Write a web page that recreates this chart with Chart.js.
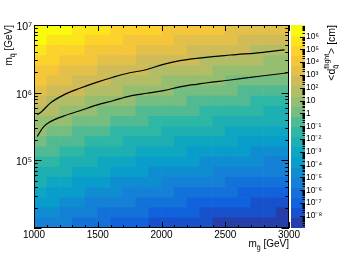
<!DOCTYPE html>
<html><head><meta charset="utf-8">
<script src="https://cdn.jsdelivr.net/npm/chart.js@4/dist/chart.umd.min.js"></script>
<style>html,body{margin:0;padding:0;background:#fff;overflow:hidden}</style>
</head><body>
<canvas id="c" width="339" height="254"></canvas>
<script>
// ---------------- data ----------------
const mgBinCenters = [1050,1150,1250,1350,1450,1550,1650,1750,1850,1950,2050,2150,2250,2350,2450,2550,2650,2750,2850,2950];
const msqBinEdges = [1.0e4,1.4125e4,1.9953e4,2.8184e4,3.9811e4,5.6234e4,7.9433e4,1.1220e5,1.5849e5,2.2387e5,3.1623e5,4.4668e5,6.3096e5,8.9125e5,1.2589e6,1.7783e6,2.5119e6,3.5481e6,5.0119e6,7.0795e6,1.0e7];
// log10 of <d_flight> [cm], one array per squark-mass bin (bottom row first)
const log10Decay_row00 = [-5.12,-5.45,-5.76,-6.04,-6.30,-6.55,-6.78,-6.99,-7.20,-7.39,-7.57,-7.75,-7.91,-8.07,-8.22,-8.37,-8.51,-8.65,-8.78,-8.91];
const log10Decay_row01 = [-4.49,-4.82,-5.13,-5.41,-5.67,-5.92,-6.15,-6.36,-6.57,-6.76,-6.94,-7.12,-7.28,-7.44,-7.59,-7.74,-7.88,-8.02,-8.15,-8.28];
const log10Decay_row02 = [-3.85,-4.18,-4.49,-4.77,-5.03,-5.28,-5.51,-5.72,-5.93,-6.12,-6.30,-6.48,-6.64,-6.80,-6.95,-7.10,-7.24,-7.38,-7.51,-7.64];
const log10Decay_row03 = [-3.22,-3.55,-3.86,-4.14,-4.40,-4.65,-4.88,-5.09,-5.30,-5.49,-5.67,-5.85,-6.01,-6.17,-6.32,-6.47,-6.61,-6.75,-6.88,-7.01];
const log10Decay_row04 = [-2.59,-2.92,-3.23,-3.51,-3.77,-4.02,-4.25,-4.46,-4.67,-4.86,-5.04,-5.22,-5.38,-5.54,-5.69,-5.84,-5.98,-6.12,-6.25,-6.38];
const log10Decay_row05 = [-1.96,-2.29,-2.60,-2.88,-3.14,-3.39,-3.62,-3.83,-4.04,-4.23,-4.41,-4.59,-4.75,-4.91,-5.06,-5.21,-5.35,-5.49,-5.62,-5.75];
const log10Decay_row06 = [-1.33,-1.66,-1.97,-2.25,-2.51,-2.76,-2.99,-3.20,-3.41,-3.60,-3.78,-3.96,-4.12,-4.28,-4.43,-4.58,-4.72,-4.86,-4.99,-5.12];
const log10Decay_row07 = [-0.69,-1.02,-1.33,-1.61,-1.87,-2.12,-2.35,-2.56,-2.77,-2.96,-3.14,-3.32,-3.48,-3.64,-3.79,-3.94,-4.08,-4.22,-4.35,-4.48];
const log10Decay_row08 = [-0.06,-0.39,-0.70,-0.98,-1.24,-1.49,-1.72,-1.93,-2.14,-2.33,-2.51,-2.69,-2.85,-3.01,-3.16,-3.31,-3.45,-3.59,-3.72,-3.85];
const log10Decay_row09 = [0.57,0.24,-0.07,-0.35,-0.61,-0.86,-1.09,-1.30,-1.51,-1.70,-1.88,-2.06,-2.22,-2.38,-2.53,-2.68,-2.82,-2.96,-3.09,-3.22];
const log10Decay_row10 = [1.20,0.87,0.56,0.28,0.02,-0.23,-0.46,-0.67,-0.88,-1.07,-1.25,-1.43,-1.59,-1.75,-1.90,-2.05,-2.19,-2.33,-2.46,-2.59];
const log10Decay_row11 = [1.83,1.50,1.19,0.91,0.65,0.40,0.17,-0.04,-0.25,-0.44,-0.62,-0.80,-0.96,-1.12,-1.27,-1.42,-1.56,-1.70,-1.83,-1.96];
const log10Decay_row12 = [2.47,2.14,1.83,1.55,1.29,1.04,0.81,0.60,0.39,0.20,0.02,-0.16,-0.32,-0.48,-0.63,-0.78,-0.92,-1.06,-1.19,-1.32];
const log10Decay_row13 = [3.10,2.77,2.46,2.18,1.92,1.67,1.44,1.23,1.02,0.83,0.65,0.47,0.31,0.15,0.00,-0.15,-0.29,-0.43,-0.56,-0.69];
const log10Decay_row14 = [3.73,3.40,3.09,2.81,2.55,2.30,2.07,1.86,1.65,1.46,1.28,1.10,0.94,0.78,0.63,0.48,0.34,0.20,0.07,-0.06];
const log10Decay_row15 = [4.36,4.03,3.72,3.44,3.18,2.93,2.70,2.49,2.28,2.09,1.91,1.73,1.57,1.41,1.26,1.11,0.97,0.83,0.70,0.57];
const log10Decay_row16 = [4.99,4.66,4.35,4.07,3.81,3.56,3.33,3.12,2.91,2.72,2.54,2.36,2.20,2.04,1.89,1.74,1.60,1.46,1.33,1.20];
const log10Decay_row17 = [5.63,5.30,4.99,4.71,4.45,4.20,3.97,3.76,3.55,3.36,3.18,3.00,2.84,2.68,2.53,2.38,2.24,2.10,1.97,1.84];
const log10Decay_row18 = [6.26,5.93,5.62,5.34,5.08,4.83,4.60,4.39,4.18,3.99,3.81,3.63,3.47,3.31,3.16,3.01,2.87,2.73,2.60,2.47];
const log10Decay_row19 = [6.89,6.56,6.25,5.97,5.71,5.46,5.23,5.02,4.81,4.62,4.44,4.26,4.10,3.94,3.79,3.64,3.50,3.36,3.23,3.10];
const log10DecayRows = [log10Decay_row00,log10Decay_row01,log10Decay_row02,log10Decay_row03,log10Decay_row04,log10Decay_row05,log10Decay_row06,log10Decay_row07,log10Decay_row08,log10Decay_row09,log10Decay_row10,log10Decay_row11,log10Decay_row12,log10Decay_row13,log10Decay_row14,log10Decay_row15,log10Decay_row16,log10Decay_row17,log10Decay_row18,log10Decay_row19];

const xTickLabels = [1000,1500,2000,2500,3000];
const yTickLabels = [1e5,1e6,1e7];
const zTickExponents = [-8,-7,-6,-5,-4,-3,-2,-1,0,1,2,3,4,5,6];

const contourUpperMg  = [1025,1042,1060,1125,1230,1360,1490,1620,1750,1870,2015,2145,2275,2540,2800,2965];
const contourUpperMsq = [4.75e5,4.95e5,5.25e5,6.95e5,9.2e5,1.16e6,1.42e6,1.69e6,1.97e6,2.16e6,2.62e6,2.97e6,3.22e6,3.6e6,3.95e6,4.3e6];
const contourLowerMg  = [1025,1073,1125,1230,1360,1490,1620,1750,1885,2015,2145,2275,2540,2800,2995];
const contourLowerMsq = [2.25e5,3.1e5,3.7e5,4.5e5,5.4e5,6.55e5,7.6e5,8.9e5,9.8e5,1.07e6,1.22e6,1.33e6,1.54e6,1.78e6,1.97e6];

// ---------------- style ----------------
const Z_MIN_LOG = -8.95, Z_MAX_LOG = 6.9, N_LEVELS = 20;
const FONT = '"Liberation Sans", Arial, Helvetica, sans-serif';
function font(sz){ return sz + 'px ' + FONT; }

const birdStops = [0,0.125,0.25,0.375,0.5,0.625,0.75,0.875,1];
const birdR = [0.2082,0.0592,0.0780,0.0232,0.1802,0.5301,0.8186,0.9956,0.9764];
const birdG = [0.1664,0.3599,0.5041,0.6419,0.7178,0.7492,0.7328,0.7862,0.9832];
const birdB = [0.5293,0.8684,0.8385,0.7914,0.6425,0.4662,0.3499,0.1968,0.0539];
function bird(f){
  f = Math.max(0, Math.min(1, f));
  let i = 0; while (i < birdStops.length-2 && f > birdStops[i+1]) i++;
  const t = (f - birdStops[i])/(birdStops[i+1]-birdStops[i]);
  const c = a => Math.round(255*(a[i] + t*(a[i+1]-a[i])));
  return 'rgb(' + c(birdR) + ',' + c(birdG) + ',' + c(birdB) + ')';
}
function levelOf(L){
  const w = (Z_MAX_LOG - Z_MIN_LOG)/N_LEVELS;
  return Math.max(0, Math.min(N_LEVELS-1, Math.floor((L - Z_MIN_LOG)/w)));
}
function levelColor(k){ return bird((k + 0.99)/N_LEVELS); }

const SUP = {'0':'\u2070','1':'\u00b9','2':'\u00b2','3':'\u00b3','4':'\u2074','5':'\u2075','6':'\u2076','7':'\u2077','8':'\u2078','9':'\u2079','-':'\u207b'};
function powLabel(e){ if (e === 0) return '1'; if (e === 1) return '10'; return '10' + String(e).split('').map(c => SUP[c]).join(''); }
function decadeExp(v){ const l = Math.log10(v); const r = Math.round(l); return Math.abs(l - r) < 1e-6 ? r : null; }

// ---------------- datasets ----------------
const datasets = [];
datasets.push({ type:'line', data: contourUpperMg.map((x,i)=>({x, y: contourUpperMsq[i]})), borderColor:'#000', borderWidth:1.2, pointRadius:0, cubicInterpolationMode:'monotone', fill:false, order:0 });
datasets.push({ type:'line', data: contourLowerMg.map((x,i)=>({x, y: contourLowerMsq[i]})), borderColor:'#000', borderWidth:1.2, pointRadius:0, cubicInterpolationMode:'monotone', fill:false, order:0 });
log10DecayRows.forEach((row, j) => {
  datasets.push({
    type:'bar',
    data: mgBinCenters.map((x,i) => ({ x, y: [msqBinEdges[j], msqBinEdges[j+1]] })),
    backgroundColor: row.map(L => levelColor(levelOf(L))),
    borderWidth: 0, grouped: false, barPercentage: 1, categoryPercentage: 1, order: 1
  });
});

// ---------------- decorations plugin ----------------
function drawRich(ctx, x, y, parts, rotate){
  ctx.save();
  ctx.translate(x, y);
  if (rotate) ctx.rotate(-Math.PI/2);
  const widths = parts.map(p => {
    const items = p.stack || [p];
    return Math.max(...items.map(s => { ctx.font = font(s.size); return ctx.measureText(s.text).width; }));
  });
  let cx = -widths.reduce((a,b)=>a+b, 0);
  ctx.textAlign = 'left'; ctx.textBaseline = 'alphabetic'; ctx.fillStyle = '#000';
  parts.forEach((p,i) => {
    (p.stack || [p]).forEach(s => { ctx.font = font(s.size); ctx.fillText(s.text, cx, s.dy || 0); });
    cx += widths[i];
  });
  ctx.restore();
}

const decor = {
  id: 'decor',
  afterDraw(chart){
    const ctx = chart.ctx, a = chart.chartArea;
    const xs = chart.scales.x, ys = chart.scales.y, zs = chart.scales.z;
    ctx.save();
    // colour palette bar
    const cbL = 291, cbR = 305;
    for (let k = 0; k < N_LEVELS; k++) {
      const w = (Z_MAX_LOG - Z_MIN_LOG)/N_LEVELS;
      const yTop = zs.getPixelForValue(Math.pow(10, Z_MIN_LOG + (k+1)*w));
      const yBot = zs.getPixelForValue(Math.pow(10, Z_MIN_LOG + k*w));
      ctx.fillStyle = levelColor(k);
      ctx.fillRect(cbL, Math.floor(yTop), cbR - cbL, Math.ceil(yBot) - Math.floor(yTop));
    }
    ctx.strokeStyle = '#000'; ctx.lineWidth = 1;
    ctx.beginPath();
    for (let e = -9; e <= 6; e++) {
      for (let m = 1; m <= 9; m++) {
        const v = m * Math.pow(10, e);
        if (v < zs.min || v > zs.max) continue;
        const yy = Math.round(zs.getPixelForValue(v)) + 0.5;
        ctx.moveTo(cbR, yy); ctx.lineTo(cbR - (m === 1 ? 5 : 2.5), yy);
      }
    }
    ctx.stroke();
    // frame
    ctx.strokeStyle = '#000'; ctx.lineWidth = 1;
    ctx.strokeRect(Math.round(a.left)+0.5, Math.round(a.top)+0.5, Math.round(a.right-a.left)-1, Math.round(a.bottom-a.top)-1);
    // x ticks (inward, bottom and top)
    ctx.beginPath();
    for (let v = 1000; v <= 3000; v += 100) {
      const xx = Math.round(xs.getPixelForValue(v)) + 0.5;
      const len = (v % 500 === 0) ? 6 : 3;
      ctx.moveTo(xx, a.bottom); ctx.lineTo(xx, a.bottom - len);
      ctx.moveTo(xx, a.top); ctx.lineTo(xx, a.top + len);
    }
    // y ticks (inward, left and right)
    for (let e = 4; e <= 7; e++) {
      for (let m = 1; m <= 9; m++) {
        const v = m * Math.pow(10, e);
        if (v < 1e4 || v > 1e7) continue;
        const yy = Math.round(ys.getPixelForValue(v)) + 0.5;
        const len = (m === 1) ? 7.5 : 3.8;
        ctx.moveTo(a.left, yy); ctx.lineTo(a.left + len, yy);
        ctx.moveTo(a.right, yy); ctx.lineTo(a.right - len, yy);
      }
    }
    ctx.stroke();
    ctx.restore();
    // axis titles
    drawRich(ctx, a.right, 247, [{text:'m', size:10},{text:'g\u0303', size:7, dy:3},{text:' [GeV]', size:10}], false);
    drawRich(ctx, 11.5, a.top, [{text:'m', size:10},{text:'q\u0303', size:7, dy:3},{text:' [GeV]', size:10}], true);
    drawRich(ctx, 334.5, a.top, [{text:'<d', size:10.5},{stack:[{text:'flight', size:7, dy:-5.5},{text:'g\u0303', size:7, dy:3}]},{text:'> [cm]', size:10.5}], true);
  }
};

new Chart(document.getElementById('c'), {
  type: 'bar',
  data: { datasets },
  plugins: [decor],
  options: {
    responsive: false, animation: false, devicePixelRatio: 1, events: [],
    layout: { padding: { top: 25, left: 0, right: 0, bottom: 0 }, autoPadding: false },
    plugins: { legend: { display: false }, tooltip: { enabled: false } },
    scales: {
      x: {
        type: 'linear', min: 1000, max: 3000, offset: false, position: 'bottom',
        grid: { display: false, drawTicks: false }, border: { display: false },
        ticks: { stepSize: 500, autoSkip: false, maxRotation: 0, padding: 1, color: '#000', font: { size: 10, family: FONT },
                 callback: v => xTickLabels.includes(v) ? String(v) : '' },
        afterFit: s => { s.height = 26; }
      },
      y: {
        type: 'logarithmic', min: 1e4, max: 1e7, stacked: false, beginAtZero: false, position: 'left',
        grid: { display: false, drawTicks: false }, border: { display: false },
        ticks: { autoSkip: false, padding: 2, labelOffset: 2, color: '#000', font: { size: 10.5, family: FONT },
                 callback: v => { const e = decadeExp(v); return (e !== null && yTickLabels.includes(v)) ? powLabel(e) : ''; } },
        afterFit: s => { s.width = 34; }
      },
      z: {
        axis: 'y', type: 'logarithmic', position: 'right', min: Math.pow(10, Z_MIN_LOG), max: Math.pow(10, Z_MAX_LOG),
        grid: { display: false, drawTicks: false }, border: { display: false },
        ticks: { autoSkip: false, padding: 17, color: '#000', font: { size: 8.5, family: FONT },
                 callback: v => { const e = decadeExp(v); return (e !== null && zTickExponents.includes(e)) ? powLabel(e) : ''; } },
        afterFit: s => { s.width = 50; }
      }
    }
  }
});
</script>
</body></html>
